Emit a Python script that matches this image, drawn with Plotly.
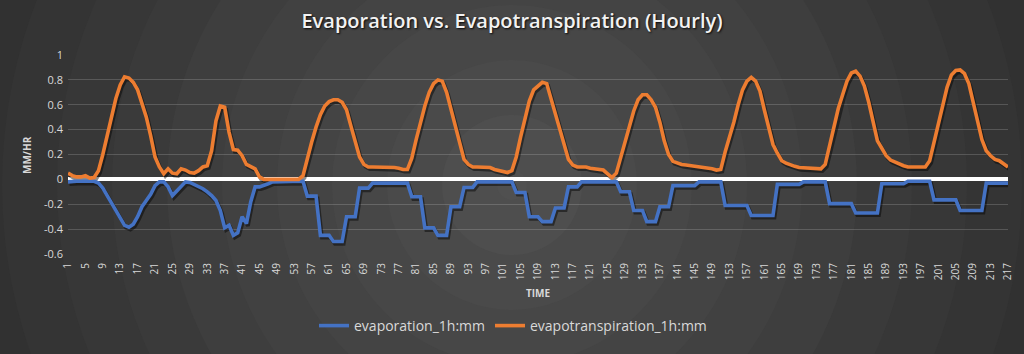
import plotly.graph_objects as go

# ---------------- data ----------------
hours = list(range(1, 218))

evapotranspiration = [
    0.05, 0.03, 0.02, 0.02, 0.03, 0.01, 0.015, 0.07, 0.2, 0.36,
    0.52, 0.65, 0.76, 0.825, 0.815, 0.78, 0.72, 0.62, 0.5, 0.35,
    0.18, 0.1, 0.045, 0.085, 0.05, 0.045, 0.085, 0.075, 0.055, 0.05,
    0.07, 0.1, 0.11, 0.23, 0.47, 0.59, 0.58, 0.38, 0.24, 0.235,
    0.19, 0.12, 0.1, 0.085, 0.02, 0, 0, 0, 0, 0,
    0, 0, 0, 0, 0.03, 0.17, 0.3, 0.42, 0.52, 0.59,
    0.625, 0.64, 0.64, 0.62, 0.56, 0.43, 0.3, 0.18, 0.12, 0.1,
    0.1, 0.1, 0.1, 0.1, 0.1, 0.095, 0.09, 0.08, 0.08, 0.17,
    0.32, 0.46, 0.59, 0.7, 0.77, 0.8, 0.79, 0.7, 0.57, 0.44,
    0.29, 0.16, 0.12, 0.1, 0.1, 0.1, 0.1, 0.095, 0.08, 0.07,
    0.065, 0.055, 0.07, 0.18, 0.34, 0.49, 0.63, 0.72, 0.755, 0.78,
    0.77, 0.65, 0.53, 0.39, 0.27, 0.16, 0.115, 0.1, 0.1, 0.1,
    0.09, 0.085, 0.08, 0.075, 0.045, 0.015, 0.05, 0.18, 0.3, 0.43,
    0.55, 0.64, 0.68, 0.68, 0.64, 0.58, 0.46, 0.31, 0.2, 0.145,
    0.13, 0.12, 0.115, 0.11, 0.105, 0.105, 0.1, 0.09, 0.085, 0.075,
    0.08, 0.22, 0.33, 0.46, 0.6, 0.72, 0.79, 0.82, 0.79, 0.71,
    0.56, 0.41, 0.28, 0.21, 0.15, 0.13, 0.115, 0.105, 0.095, 0.093,
    0.093, 0.093, 0.093, 0.085, 0.12, 0.26, 0.42, 0.57, 0.68, 0.79,
    0.855, 0.87, 0.83, 0.75, 0.62, 0.46, 0.31, 0.25, 0.19, 0.155,
    0.14, 0.12, 0.11, 0.1, 0.1, 0.1, 0.1, 0.1, 0.15, 0.3,
    0.47, 0.62, 0.74, 0.84, 0.875, 0.88, 0.85, 0.77, 0.63, 0.47,
    0.32, 0.23, 0.19, 0.16, 0.15, 0.125, 0.1,
]

evaporation = [
    -0.02, -0.015, -0.015, -0.015, -0.015, -0.015, -0.015, -0.03, -0.07, -0.13,
    -0.19, -0.25, -0.31, -0.37, -0.385, -0.36, -0.3, -0.22, -0.17, -0.12,
    -0.05, -0.02, -0.02, -0.06, -0.13, -0.09, -0.05, -0.02, -0.025, -0.04,
    -0.055, -0.075, -0.1, -0.13, -0.17, -0.25, -0.39, -0.37, -0.45, -0.43,
    -0.3, -0.355, -0.18, -0.06, -0.06, -0.05, -0.035, -0.02, -0.02, -0.02,
    -0.02, -0.02, -0.02, -0.02, -0.015, -0.135, -0.135, -0.135, -0.45, -0.45,
    -0.45, -0.5, -0.5, -0.5, -0.3, -0.3, -0.3, -0.07, -0.07, -0.07,
    -0.03, -0.03, -0.03, -0.03, -0.03, -0.03, -0.03, -0.03, -0.03, -0.14,
    -0.14, -0.14, -0.39, -0.39, -0.39, -0.45, -0.45, -0.45, -0.22, -0.22,
    -0.22, -0.065, -0.065, -0.065, -0.02, -0.02, -0.02, -0.02, -0.02, -0.02,
    -0.02, -0.02, -0.02, -0.105, -0.105, -0.105, -0.3, -0.3, -0.3, -0.34,
    -0.34, -0.34, -0.23, -0.23, -0.23, -0.06, -0.06, -0.06, -0.02, -0.02,
    -0.02, -0.02, -0.02, -0.02, -0.02, -0.02, -0.02, -0.1, -0.1, -0.1,
    -0.25, -0.25, -0.25, -0.34, -0.34, -0.34, -0.22, -0.22, -0.22, -0.05,
    -0.05, -0.05, -0.05, -0.05, -0.05, -0.02, -0.02, -0.02, -0.02, -0.02,
    -0.02, -0.21, -0.21, -0.21, -0.21, -0.21, -0.21, -0.29, -0.29, -0.29,
    -0.29, -0.29, -0.29, -0.04, -0.04, -0.04, -0.04, -0.04, -0.04, -0.02,
    -0.02, -0.02, -0.02, -0.02, -0.02, -0.195, -0.195, -0.195, -0.195, -0.195,
    -0.195, -0.27, -0.27, -0.27, -0.27, -0.27, -0.27, -0.035, -0.035, -0.035,
    -0.035, -0.035, -0.035, -0.015, -0.015, -0.015, -0.015, -0.015, -0.015, -0.165,
    -0.165, -0.165, -0.165, -0.165, -0.165, -0.25, -0.25, -0.25, -0.25, -0.25,
    -0.25, -0.03, -0.03, -0.03, -0.03, -0.03, -0.03,
]

x_tick_values = list(range(1, 218, 4))
x_tick_labels = [str(v) for v in x_tick_values]
y_tick_values = [1, 0.8, 0.6, 0.4, 0.2, 0, -0.2, -0.4, -0.6]
y_tick_labels = ["1", "0.8", "0.6", "0.4", "0.2", "0", "-0.2", "-0.4", "-0.6"]

assert len(evapotranspiration) == 217, len(evapotranspiration)
assert len(evaporation) == 217, len(evaporation)

# ---------------- layout geometry ----------------
FW, FH = 1024, 354
ML, MR, MT, MB = 68, 16, 55, 100
PW, PH = FW - ML - MR, FH - MT - MB

def px_x(px):
    return (px - ML) / PW

def px_y(py):
    return (FH - MB - py) / PH

FONT = "Open Sans"
TXT = "#d9d9d9"
BLUE = "#4472c4"
ORANGE = "#ed7d31"

fig = go.Figure()

# subtle drop shadows under the lines
for ys in (evaporation, evapotranspiration):
    fig.add_trace(go.Scatter(
        x=[h + 0.35 for h in hours], y=[v - 0.018 for v in ys], mode="lines",
        line=dict(color="rgba(0,0,0,0.45)", width=3.8),
        showlegend=False, hoverinfo="skip",
    ))

fig.add_trace(go.Scatter(
    x=hours, y=evaporation, mode="lines", name="evaporation_1h:mm",
    line=dict(color=BLUE, width=3.6),
))
fig.add_trace(go.Scatter(
    x=hours, y=evapotranspiration, mode="lines", name="evapotranspiration_1h:mm",
    line=dict(color=ORANGE, width=3.6),
))

# radial background (concentric discs)
shapes = []
cx, cy = 512, 185
radii = list(range(620, 0, -55))
for r in radii:
    d = max(r - 27, 0)
    b = int(round(max(0x1e, 0x50 - d * 0.058)))
    col = "#{0:02x}{0:02x}{0:02x}".format(b)
    shapes.append(dict(
        type="circle", xref="paper", yref="paper", layer="below",
        x0=px_x(cx - r), x1=px_x(cx + r), y0=px_y(cy + r), y1=px_y(cy - r),
        fillcolor=col, line=dict(width=0),
    ))

fig.update_layout(
    width=FW, height=FH, autosize=False,
    margin=dict(l=ML, r=MR, t=MT, b=MB, autoexpand=False),
    paper_bgcolor="#1e1e1e",
    plot_bgcolor="rgba(0,0,0,0)",
    shapes=shapes,
    font=dict(family=FONT, color=TXT),
    title=dict(
        text="Evaporation vs. Evapotranspiration (Hourly)",
        x=0.5, xref="container", xanchor="center",
        y=1 - 21 / FH, yref="container", yanchor="middle",
        font=dict(family=FONT, size=20, weight=600, color="#f2f2f2",
                  shadow="1px 1px 2px rgba(0,0,0,0.9)"),
    ),
    showlegend=True,
    legend=dict(
        orientation="h", x=px_x(513), xanchor="center",
        y=px_y(326), yanchor="middle",
        font=dict(family=FONT, size=14, color=TXT),
        bgcolor="rgba(0,0,0,0)", traceorder="normal",
    ),
    xaxis=dict(
        range=[1, 217], tickmode="array", tickvals=x_tick_values, ticktext=x_tick_labels,
        tickangle=-90, tickfont=dict(family=FONT, size=10, color=TXT),
        showgrid=False, zeroline=False, showline=False, ticks="", automargin=False,
        ticklabelstandoff=6,
    ),
    yaxis=dict(
        range=[-0.6, 1], tickmode="array", tickvals=y_tick_values, ticktext=y_tick_labels,
        tickfont=dict(family=FONT, size=11, color=TXT),
        showgrid=True, gridcolor="rgba(255,255,255,0.17)", gridwidth=1,
        zeroline=True, zerolinecolor="#ffffff", zerolinewidth=3.5,
        showline=False, ticks="", ticklabelstandoff=4, automargin=False,
    ),
    annotations=[
        dict(text="<b>TIME</b>", xref="paper", yref="paper", x=0.5, y=px_y(293),
             xanchor="center", yanchor="middle", showarrow=False,
             font=dict(family=FONT, size=10, color=TXT)),
        dict(text="<b>MM/HR</b>", xref="paper", yref="paper", x=px_x(27), y=px_y(155),
             xanchor="center", yanchor="middle", showarrow=False, textangle=-90,
             font=dict(family=FONT, size=10, color=TXT)),
    ],
)

fig.write_html("out.html")
